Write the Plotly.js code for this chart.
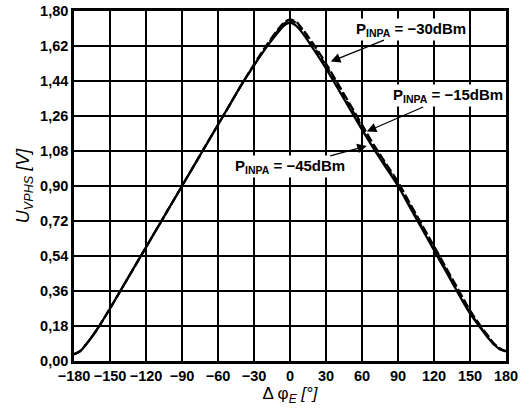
<!DOCTYPE html>
<html>
<head>
<meta charset="utf-8">
<script src="https://cdn.plot.ly/plotly-3.0.1.min.js"></script>
<style>html,body{margin:0;padding:0;background:#fff;}#chart{width:527px;height:409px;}</style>
</head>
<body>
<div id="chart"></div>
<script>
// Phase difference (degrees)
const phase = [-180,-175,-170,-165,-160,-150,-140,-130,-120,-110,-100,-90,-80,-70,-60,-50,-40,-30,-20,-10,-5,0,5,10,20,30,40,50,60,70,80,90,100,110,120,130,140,150,160,165,170,175,180];
// U_VPHS (V) for the three input power levels
const u15 = [0.035,0.05,0.085,0.125,0.17,0.27,0.375,0.48,0.585,0.69,0.795,0.90,1.005,1.11,1.215,1.32,1.425,1.52,1.61,1.69,1.725,1.74,1.725,1.69,1.60,1.505,1.40,1.295,1.19,1.09,0.995,0.90,0.79,0.68,0.57,0.46,0.35,0.245,0.16,0.12,0.085,0.06,0.05];
const u30 = [0.035,0.05,0.085,0.125,0.17,0.27,0.375,0.48,0.585,0.69,0.795,0.90,1.005,1.11,1.215,1.32,1.425,1.525,1.62,1.705,1.74,1.755,1.745,1.71,1.625,1.53,1.425,1.32,1.215,1.11,1.015,0.92,0.81,0.70,0.59,0.48,0.37,0.26,0.17,0.13,0.09,0.065,0.05];
const u45 = [0.035,0.05,0.085,0.125,0.17,0.27,0.375,0.48,0.585,0.69,0.795,0.90,1.005,1.11,1.215,1.32,1.425,1.52,1.615,1.70,1.735,1.75,1.74,1.705,1.615,1.52,1.415,1.31,1.205,1.10,1.005,0.91,0.80,0.69,0.58,0.47,0.36,0.25,0.165,0.125,0.085,0.06,0.05];

const xTicks = [-180,-150,-120,-90,-60,-30,0,30,60,90,120,150,180];
const xTickText = ["\u2212180","\u2212150","\u2212120","\u221290","\u221260","\u221230","0","30","60","90","120","150","180"];
const yTicks = [0,0.18,0.36,0.54,0.72,0.90,1.08,1.26,1.44,1.62,1.80];
const yTickText = ["0,00","0,18","0,36","0,54","0,72","0,90","1,08","1,26","1,44","1,62","1,80"];

// Annotation labels: [text, arrow-tip x, arrow-tip y, text x, text y]
const labels = [
  ["P<sub>INPA</sub> = \u221230dBm", 34, 1.54, 101, 1.707],
  ["P<sub>INPA</sub> = \u221215dBm", 64, 1.18, 132, 1.363],
  ["P<sub>INPA</sub> = \u221245dBm", 64, 1.106, 0, 0.998]
];

const traces = [
  {x: phase, y: u15, mode: 'lines', line: {color: '#000', width: 2.3, shape: 'spline'}, name: '-15dBm'},
  {x: phase, y: u30, mode: 'lines', line: {color: '#000', width: 2.3, dash: '9px,3px', shape: 'spline'}, name: '-30dBm'},
  {x: phase, y: u45, mode: 'lines', line: {color: '#000', width: 2.0, dash: '6px,4px', shape: 'spline'}, name: '-45dBm'}
];

const fontFam = '"Liberation Sans", Arial, sans-serif';
const tickFont = {family: fontFam, size: 14.5, color: '#000', weight: 'bold'};
const layout = {
  width: 527, height: 409,
  margin: {l: 74, r: 21, t: 11, b: 48},
  paper_bgcolor: '#fff', plot_bgcolor: '#fff',
  showlegend: false,
  font: {family: fontFam, size: 14, color: '#000'},
  xaxis: {
    range: [-180, 180], tickvals: xTicks, ticktext: xTickText,
    showgrid: true, gridcolor: '#000', gridwidth: 1.4,
    showline: true, linecolor: '#000', linewidth: 2.8, mirror: true,
    zeroline: false, ticks: '', ticklen: 0,
    tickfont: tickFont,
    title: {text: '\u0394 \u03c6<sub><i>E</i></sub> <i>[\u00b0]</i>', font: {family: fontFam, size: 17, color: '#000'}, standoff: 3}
  },
  yaxis: {
    range: [0, 1.8], tickvals: yTicks, ticktext: yTickText,
    showgrid: true, gridcolor: '#000', gridwidth: 1.4,
    showline: true, linecolor: '#000', linewidth: 2.8, mirror: true,
    zeroline: false, ticks: '', ticklen: 0,
    tickfont: tickFont,
    title: {text: '<i>U<sub>VPHS</sub> [V]</i>', font: {family: fontFam, size: 18, color: '#000'}, standoff: 6}
  },
  annotations: labels.map(function (l) {
    return {
      x: l[1], y: l[2], xref: 'x', yref: 'y',
      ax: l[3], ay: l[4], axref: 'x', ayref: 'y',
      text: l[0], showarrow: true, arrowhead: 2, arrowsize: 1.6, arrowwidth: 1.2, arrowcolor: '#000',
      bgcolor: '#fff', borderpad: 1,
      font: {family: fontFam, size: 15, color: '#000', weight: 'bold'}
    };
  })
};

Plotly.newPlot('chart', traces, layout, {displayModeBar: false, staticPlot: true});
</script>
</body>
</html>
